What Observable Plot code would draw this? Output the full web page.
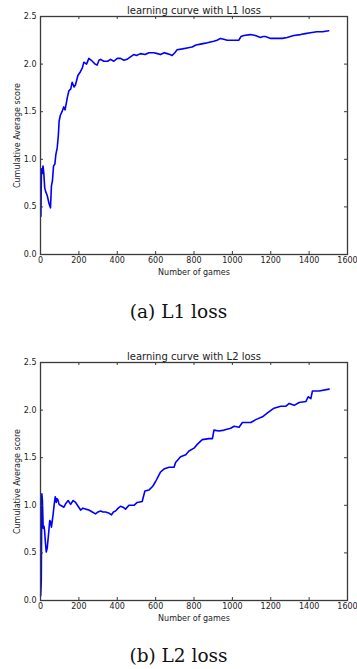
<!DOCTYPE html>
<html>
<head>
<meta charset="utf-8">
<script src="https://cdn.jsdelivr.net/npm/d3@7"></script>
<script src="https://cdn.jsdelivr.net/npm/@observablehq/plot@0.6"></script>
<style>
  html, body { margin: 0; padding: 0; background: #fff; }
  #root { position: relative; width: 357px; height: 669px; overflow: hidden; }
  .chart { position: absolute; left: 0; width: 357px; }
  .caption { position: absolute; left: 0; width: 357px; text-align: center;
    font-family: "DejaVu Serif", serif; font-size: 18.5px; color: #111; line-height: 1; }
</style>
</head>
<body>
<div id="root"></div>
<script>
const xTicks = [0, 200, 400, 600, 800, 1000, 1200, 1400, 1600];
const yTicks = [0, 0.5, 1.0, 1.5, 2.0, 2.5];
const titles = ["learning curve with L1 loss", "learning curve with L2 loss"];
const captions = ["(a) L1 loss", "(b) L2 loss"];
const xLabel = "Number of games";
const yLabel = "Cumulative Average score";

const l1Games = [2,5,9,13,17,22,27,35,45,52,57,62,68,75,80,87,93,97,103,112,121,128,140,148,158,165,175,182,195,208,218,226,240,252,265,275,285,295,305,313,330,350,365,382,400,417,435,451,465,486,500,521,545,565,591,610,625,645,660,675,686,700,712,740,764,790,810,834,860,880,903,920,938,955,973,1000,1033,1045,1060,1094,1120,1146,1160,1172,1200,1233,1260,1285,1320,1355,1380,1407,1440,1470,1502];
const l1Score = [0.40,0.90,0.85,0.93,0.86,0.70,0.66,0.62,0.53,0.49,0.72,0.77,0.93,0.95,1.05,1.12,1.25,1.40,1.46,1.50,1.55,1.52,1.65,1.72,1.74,1.81,1.76,1.78,1.88,1.92,1.96,2.02,2.00,2.06,2.04,2.02,2.00,1.99,2.04,2.05,2.03,2.03,2.05,2.03,2.06,2.06,2.04,2.05,2.07,2.10,2.09,2.11,2.10,2.12,2.12,2.11,2.10,2.12,2.11,2.10,2.09,2.12,2.15,2.16,2.17,2.18,2.20,2.21,2.22,2.23,2.24,2.25,2.27,2.26,2.25,2.25,2.25,2.29,2.30,2.31,2.30,2.28,2.29,2.29,2.27,2.27,2.27,2.28,2.30,2.31,2.32,2.33,2.34,2.34,2.35];

const l2Games = [1,4,7,10,14,18,21,26,30,35,43,48,52,57,66,72,77,82,86,90,97,104,113,122,132,144,157,170,183,196,209,221,235,252,270,287,300,313,326,339,355,370,380,391,405,417,430,443,461,487,504,530,544,565,585,600,615,626,643,670,696,704,730,757,774,800,817,843,878,896,904,930,957,991,1009,1035,1052,1096,1122,1157,1183,1217,1252,1278,1296,1322,1348,1383,1395,1409,1417,1452,1504];
const l2Score = [0.05,0.20,1.12,1.05,0.76,0.78,0.74,0.60,0.51,0.55,0.72,0.84,0.83,0.77,0.91,1.02,1.09,1.03,1.07,1.06,1.01,1.00,0.99,0.98,1.02,1.05,1.01,1.05,1.03,0.99,0.95,0.97,0.96,0.95,0.93,0.91,0.93,0.94,0.93,0.93,0.92,0.90,0.93,0.94,0.97,0.99,0.98,0.96,1.00,1.00,1.03,1.04,1.15,1.16,1.20,1.25,1.31,1.35,1.38,1.40,1.40,1.45,1.51,1.53,1.57,1.60,1.64,1.69,1.70,1.70,1.79,1.78,1.79,1.81,1.83,1.82,1.87,1.87,1.90,1.93,1.97,2.02,2.04,2.04,2.07,2.05,2.08,2.09,2.14,2.12,2.20,2.20,2.22];

const series = [
  l1Games.map((g, i) => ({games: g, score: l1Score[i]})),
  l2Games.map((g, i) => ({games: g, score: l2Score[i]}))
];

const W = 357, H = 280, mT = 16, mB = 26, mL = 40, mR = 10;
const plotH = H - mT - mB;
const tickLen = 3;
const frameColor = "#3a3a3a";

function makeChart(data, title) {
  return Plot.plot({
    width: W, height: H,
    marginTop: mT, marginBottom: mB, marginLeft: mL, marginRight: mR,
    style: {fontFamily: "DejaVu Sans, sans-serif", fontSize: "8px", color: "#222", background: "#fff"},
    x: {domain: [0, 1600]},
    y: {domain: [0, 2.5]},
    marks: [
      Plot.axisX(xTicks, {tickSize: 0, tickPadding: 3, label: null, tickFormat: d3.format("d")}),
      Plot.axisY(yTicks, {tickSize: 0, tickPadding: 4, label: null, tickFormat: d3.format(".1f")}),
      Plot.line(data, {x: "games", y: "score", stroke: "#0000ff", strokeWidth: 1.6}),
      // inward ticks on all four sides
      Plot.ruleX(xTicks, {x: d => d, insetTop: plotH - tickLen, stroke: frameColor, strokeWidth: 1}),
      Plot.ruleX(xTicks, {x: d => d, insetBottom: plotH - tickLen, stroke: frameColor, strokeWidth: 1}),
      Plot.ruleY(yTicks, {y: d => d, insetRight: (W - mL - mR) - tickLen, stroke: frameColor, strokeWidth: 1}),
      Plot.ruleY(yTicks, {y: d => d, insetLeft: (W - mL - mR) - tickLen, stroke: frameColor, strokeWidth: 1}),
      Plot.frame({stroke: frameColor, strokeWidth: 1.3}),
      Plot.text([title], {frameAnchor: "top", lineAnchor: "bottom", dy: -3, fontSize: 10, fill: "#222"}),
      Plot.text([xLabel], {frameAnchor: "bottom", lineAnchor: "middle", dy: 18, fontSize: 8, fill: "#222"}),
      Plot.text([yLabel], {frameAnchor: "left", textAnchor: "middle", lineAnchor: "middle", rotate: -90, dx: -23, fontSize: 8, fill: "#222"})
    ]
  });
}

const root = document.getElementById("root");
const chartTops = [0, 346];
const captionTops = [303, 647];
series.forEach((data, i) => {
  const div = document.createElement("div");
  div.className = "chart";
  div.style.top = chartTops[i] + "px";
  div.appendChild(makeChart(data, titles[i]));
  root.appendChild(div);
  const cap = document.createElement("div");
  cap.className = "caption";
  cap.style.top = captionTops[i] + "px";
  cap.textContent = captions[i];
  root.appendChild(cap);
});
</script>
</body>
</html>
